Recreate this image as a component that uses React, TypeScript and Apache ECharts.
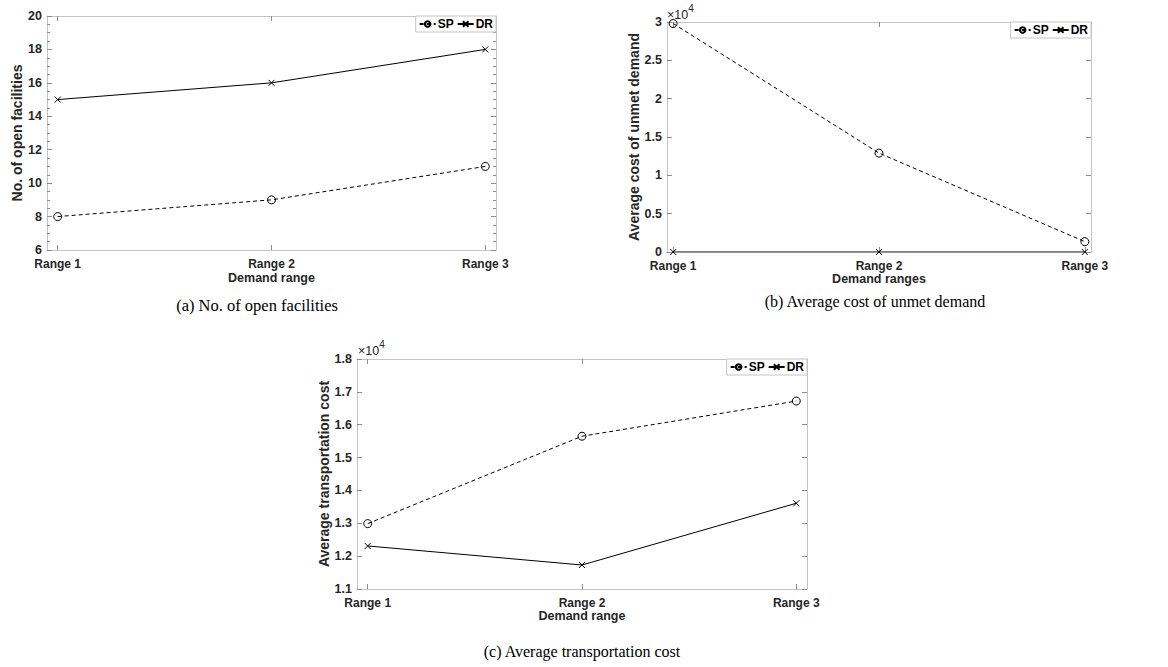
import React, { useEffect, useRef } from "react";
import * as echarts from "echarts";

const categories = ["Range 1", "Range 2", "Range 3"];
const xPositions = [1, 2, 3];

const facilitiesSP = [8, 9, 11];
const facilitiesDR = [15, 16, 18];

const unmetSP = [29800, 12900, 1350];
const unmetDR = [0, 0, 0];

const transportSP = [12990, 15650, 16720];
const transportDR = [12310, 11730, 13610];

const captions = [
  "(a) No. of open facilities",
  "(b) Average cost of unmet demand",
  "(c) Average transportation cost",
];

const SANS = "'Liberation Sans', Arial, Helvetica, sans-serif";
const SERIF = "'Liberation Serif', 'Times New Roman', serif";
const BOX = "#c4c4c4";
const TICK = "#8c8c8c";
const TXT = "#262626";
const CROSS = "path://M0,0L10,10M0,10L10,0";

type Panel = {
  grid: { left: number; top: number; width: number; height: number };
  xMin: number;
  xMax: number;
  yMin: number;
  yMax: number;
  yInterval: number;
  yFormat: (v: number) => string;
  minor: boolean;
  yName: string;
  yNameGap: number;
  xName: string;
  xNameGap: number;
  sp: number[];
  dr: number[];
};

const panels: Panel[] = [
  {
    grid: { left: 47, top: 16, width: 449, height: 234 },
    xMin: 0.95, xMax: 3.05,
    yMin: 6, yMax: 20, yInterval: 2,
    yFormat: (v) => String(v),
    minor: true,
    yName: "No. of open facilities", yNameGap: 22,
    xName: "Demand range", xNameGap: 21,
    sp: facilitiesSP, dr: facilitiesDR,
  },
  {
    grid: { left: 667, top: 22, width: 424, height: 230 },
    xMin: 0.97, xMax: 3.03,
    yMin: 0, yMax: 30000, yInterval: 5000,
    yFormat: (v) => String(v / 10000),
    minor: false,
    yName: "Average cost of unmet demand", yNameGap: 22,
    xName: "Demand ranges", xNameGap: 17,
    sp: unmetSP, dr: unmetDR,
  },
  {
    grid: { left: 357, top: 359, width: 450, height: 230 },
    xMin: 0.95, xMax: 3.05,
    yMin: 11000, yMax: 18000, yInterval: 1000,
    yFormat: (v) => (v / 10000).toFixed(1),
    minor: false,
    yName: "Average transportation cost", yNameGap: 25,
    xName: "Demand range", xNameGap: 18,
    sp: transportSP, dr: transportDR,
  },
];

function buildOption() {
  const grid: any[] = [];
  const xAxis: any[] = [];
  const yAxis: any[] = [];
  const series: any[] = [];
  const legend: any[] = [];

  panels.forEach((p, i) => {
    grid.push({ ...p.grid, show: false });
    const tick = {
      show: true,
      inside: true,
      length: 5,
      customValues: xPositions,
      lineStyle: { color: TICK, width: 1 },
    };
    xAxis.push({
      type: "value",
      gridIndex: i,
      position: "bottom",
      min: p.xMin,
      max: p.xMax,
      axisLine: { show: true, onZero: false, lineStyle: { color: BOX, width: 1 } },
      axisTick: tick,
      axisLabel: {
        show: true,
        customValues: xPositions,
        formatter: (v: number) => categories[Math.round(v) - 1] ?? "",
        fontFamily: SANS,
        fontWeight: "bold",
        fontSize: 12,
        color: TXT,
        margin: 8,
      },
      splitLine: { show: false },
      name: p.xName,
      nameLocation: "middle",
      nameGap: p.xNameGap,
      nameTextStyle: { fontFamily: SANS, fontWeight: "bold", fontSize: 12.5, color: TXT },
    });
    xAxis.push({
      type: "value",
      gridIndex: i,
      position: "top",
      min: p.xMin,
      max: p.xMax,
      axisLine: { show: true, onZero: false, lineStyle: { color: BOX, width: 1 } },
      axisTick: tick,
      axisLabel: { show: false },
      splitLine: { show: false },
    });
    const yTick = { show: true, inside: true, length: 5, lineStyle: { color: TICK, width: 1 } };
    const yMinor = {
      show: p.minor,
      splitNumber: 4,
      length: 3,
      lineStyle: { color: TICK, width: 1 },
    };
    yAxis.push({
      type: "value",
      gridIndex: i,
      position: "left",
      min: p.yMin,
      max: p.yMax,
      interval: p.yInterval,
      axisLine: { show: true, onZero: false, lineStyle: { color: BOX, width: 1 } },
      axisTick: yTick,
      minorTick: yMinor,
      axisLabel: {
        formatter: p.yFormat,
        fontFamily: SANS,
        fontWeight: "bold",
        fontSize: 12.5,
        color: TXT,
        margin: 5,
      },
      splitLine: { show: false },
      name: p.yName,
      nameLocation: "middle",
      nameGap: p.yNameGap,
      nameTextStyle: { fontFamily: SANS, fontWeight: "bold", fontSize: 14, color: TXT },
    });
    yAxis.push({
      type: "value",
      gridIndex: i,
      position: "right",
      min: p.yMin,
      max: p.yMax,
      interval: p.yInterval,
      axisLine: { show: true, onZero: false, lineStyle: { color: BOX, width: 1 } },
      axisTick: yTick,
      minorTick: yMinor,
      axisLabel: { show: false },
      splitLine: { show: false },
    });

    series.push({
      type: "line",
      name: "SP",
      xAxisIndex: 2 * i,
      yAxisIndex: 2 * i,
      data: p.sp.map((v, k) => [xPositions[k], v]),
      symbol: "circle",
      symbolSize: 8,
      itemStyle: { color: "rgba(255,255,255,0)", borderColor: "#000", borderWidth: 1 },
      lineStyle: { color: "#000", width: 1, type: [4, 3] },
      z: 3,
    });
    series.push({
      type: "line",
      name: "DR",
      xAxisIndex: 2 * i,
      yAxisIndex: 2 * i,
      data: p.dr.map((v, k) => [xPositions[k], v]),
      symbol: CROSS,
      symbolSize: 6,
      itemStyle: { color: "rgba(0,0,0,0)", borderColor: "#000", borderWidth: 1 },
      lineStyle: { color: "#000", width: 1, type: "solid" },
      z: 3,
    });

    legend.push({
      data: ["SP", "DR"],
      right: 1168 - (p.grid.left + p.grid.width),
      top: p.grid.top,
      orient: "horizontal",
      itemGap: 3,
      itemWidth: 16,
      itemHeight: 7,
      padding: [2, 3, 2, 3],
      borderColor: BOX,
      borderWidth: 1,
      backgroundColor: "#fff",
      selectedMode: false,
      textStyle: { fontFamily: SANS, fontWeight: "bold", fontSize: 12, color: "#000", padding: [0, 0, 0, -3] },
    });
  });

  const expo = (left: number, top: number) => ({
    type: "text",
    left,
    top,
    style: {
      text: "{a|×10}{b|4}",
      rich: {
        a: { fontFamily: SANS, fontSize: 12.5, fill: TXT, lineHeight: 18, verticalAlign: "bottom" },
        b: { fontFamily: SANS, fontSize: 10, fill: TXT, lineHeight: 18, verticalAlign: "top" },
      },
    },
  });

  const graphic: any[] = [
    expo(667, 3),
    expo(358, 339),
    { type: "text", x: 257, y: 305, style: { text: captions[0], fontFamily: SERIF, fontSize: 16.5, fill: "#000", align: "center", verticalAlign: "middle" } },
    { type: "text", x: 875, y: 301, style: { text: captions[1], fontFamily: SERIF, fontSize: 16, fill: "#000", align: "center", verticalAlign: "middle" } },
    { type: "text", x: 582, y: 651, style: { text: captions[2], fontFamily: SERIF, fontSize: 16, fill: "#000", align: "center", verticalAlign: "middle" } },
  ];

  return {
    animation: false,
    backgroundColor: "#fff",
    textStyle: { fontFamily: SANS },
    grid,
    xAxis,
    yAxis,
    series,
    legend,
    graphic,
  };
}

export default function App() {
  const ref = useRef<HTMLDivElement>(null);
  useEffect(() => {
    if (!ref.current) return;
    const chart = echarts.init(ref.current, undefined, { renderer: "svg" });
    chart.setOption(buildOption() as any);
    return () => chart.dispose();
  }, []);
  return (
    <div
      ref={ref}
      style={{ position: "fixed", left: 0, top: 0, width: 1168, height: 667, background: "#fff" }}
    />
  );
}
